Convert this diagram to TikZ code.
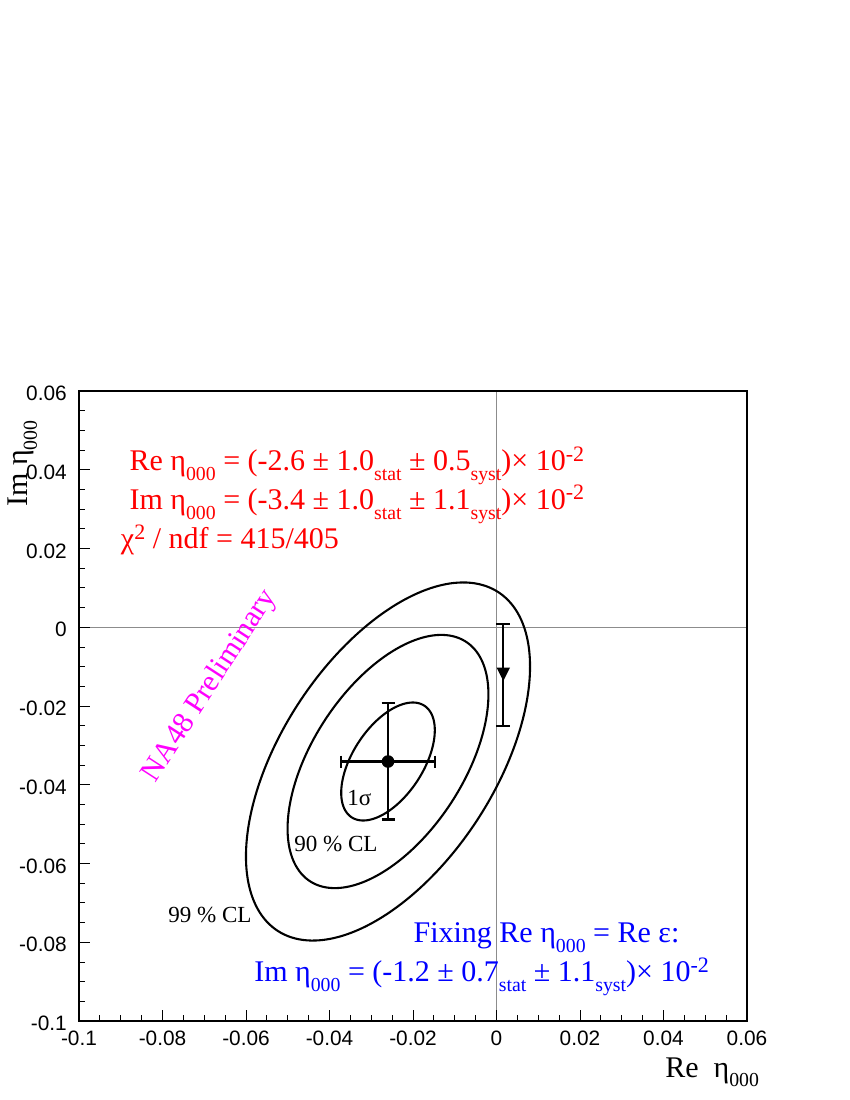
\documentclass[tikz,border=0pt]{standalone}
\usepackage{fontspec}
\setmainfont{Liberation Serif}
\newfontfamily\helv{Liberation Sans}
\newcommand\lo[1]{\raisebox{-0.33em}{\fontsize{14.26pt}{16pt}\selectfont #1}}
\newcommand\hi[1]{\raisebox{0.32em}{\fontsize{15.84pt}{18pt}\selectfont #1}}
\newcommand\bigtxt{\fontsize{21.6pt}{26pt}\selectfont}
\newcommand\midtxt{\fontsize{16.6pt}{20pt}\selectfont}
\newcommand\ticktxt{\helv\fontsize{15pt}{18pt}\selectfont}
\definecolor{rootred}{RGB}{255,0,0}
\definecolor{rootblue}{RGB}{0,0,255}
\definecolor{rootmag}{RGB}{255,0,255}
\begin{document}
\begin{tikzpicture}[x=0.72pt,y=-0.72pt,
  frame/.style={line width=1.5pt},
  zeroline/.style={black!45,line width=0.7pt},
  tickline/.style={black,line width=0.6pt},
  contour/.style={line width=1.5pt},
  errbar/.style={line width=1.5pt},
  ticklab/.style={inner sep=0pt,font=\ticktxt},
  bigtext/.style={inner sep=0pt,font=\bigtxt,anchor=base west},
  cllabel/.style={inner sep=0pt,font=\midtxt,anchor=base west}]
\useasboundingbox (0,0) rectangle (850,1100);
% zero lines
\draw[zeroline] (496.5,391) -- (496.5,1021);
\draw[zeroline] (79,627) -- (747,627);
% ticks
\foreach \i in {0,...,32}{
  \pgfmathsetmacro\tx{79+\i*20.875}
  \pgfmathsetmacro\ty{1021-\i*19.6875}
  \pgfmathtruncatemacro\m{mod(\i,4)}
  \ifnum\m=0 \def\tl{11}\else\def\tl{6}\fi
  \draw[tickline] (\tx,1021) -- ++(0,-\tl);
  \draw[tickline] (79,\ty) -- ++(\tl,0);
}
% frame
\draw[frame] (79,391) rectangle (747,1021);
% tick labels
\foreach \lab [count=\k from 0] in {-0.1,-0.08,-0.06,-0.04,-0.02,0,0.02,0.04,0.06}{
  \pgfmathsetmacro\tx{79+\k*83.5}
  \node[ticklab,anchor=base] (xl\k) at (\tx,1045) {\lab};
  \pgfmathsetmacro\ty{1021-\k*78.75+9.5}
  \node[ticklab,anchor=base east] (yl\k) at (67,\ty) {\lab};
}
% axis titles
\node[bigtext] (xtitle) at (665,1077) {Re\hspace{0.5em}η\lo{000}};
\node[bigtext,rotate=90] (ytitle) at (27,507) {Im η\lo{000}};
% contours
\foreach \k in {1,2.146,3.035}{
  \draw[contour] plot[domain=0:360,samples=180,smooth cycle]
    ({388+\k*46.8*cos(\x)},{761.5-\k*59*cos(\x-58)});
}
% central point with errors
\coordinate (c) at (388,761.5);
\draw[errbar] (341,761.5) -- (435,761.5);
\draw[errbar] (341,755.5) -- (341,767.5);
\draw[errbar] (435,755.5) -- (435,767.5);
\draw[errbar] (388,703) -- (388,819.5);
\draw[errbar] (381.5,703) -- (394.5,703);
\draw[errbar] (381.5,819.5) -- (394.5,819.5);
\fill (c) circle[radius=6.3];
% fixed Re point
\draw[errbar] (503.3,624) -- (503.3,726);
\draw[errbar] (496.3,624) -- (510.3,624);
\draw[errbar] (496.3,726) -- (510.3,726);
\fill (496.5,667.5) -- (510.1,667.5) -- (503.3,681) -- cycle;
% contour labels
\node[cllabel] (l1) at (347,805) {1σ};
\node[cllabel] (l90) at (294,851.5) {90 \% CL};
\node[cllabel] (l99) at (168,922.5) {99 \% CL};
% red results
\node[bigtext,text=rootred] (r1) at (129.3,470.7) {Re η\lo{000} = (-2.6 ± 1.0\lo{stat} ± 0.5\lo{syst})× 10\hi{-2}};
\node[bigtext,text=rootred] (r2) at (129.3,509.3) {Im η\lo{000} = (-3.4 ± 1.0\lo{stat} ± 1.1\lo{syst})× 10\hi{-2}};
\node[bigtext,text=rootred] (r3) at (120.7,548.5) {χ\raisebox{0.3em}{\fontsize{15.84pt}{18pt}\selectfont 2} / ndf = 415/405};
% blue results
\node[bigtext,text=rootblue] (b1) at (413.3,942.7) {Fixing Re η\lo{000} = Re ε:};
\node[bigtext,text=rootblue] (b2) at (254,981.7) {Im η\lo{000} = (-1.2 ± 0.7\lo{stat} ± 1.1\lo{syst})× 10\hi{-2}};
% preliminary
\node[inner sep=0pt,font=\bigtxt,text=rootmag,rotate=57] (prelim) at (210,686) {NA48 Preliminary};
\end{tikzpicture}
\end{document}
